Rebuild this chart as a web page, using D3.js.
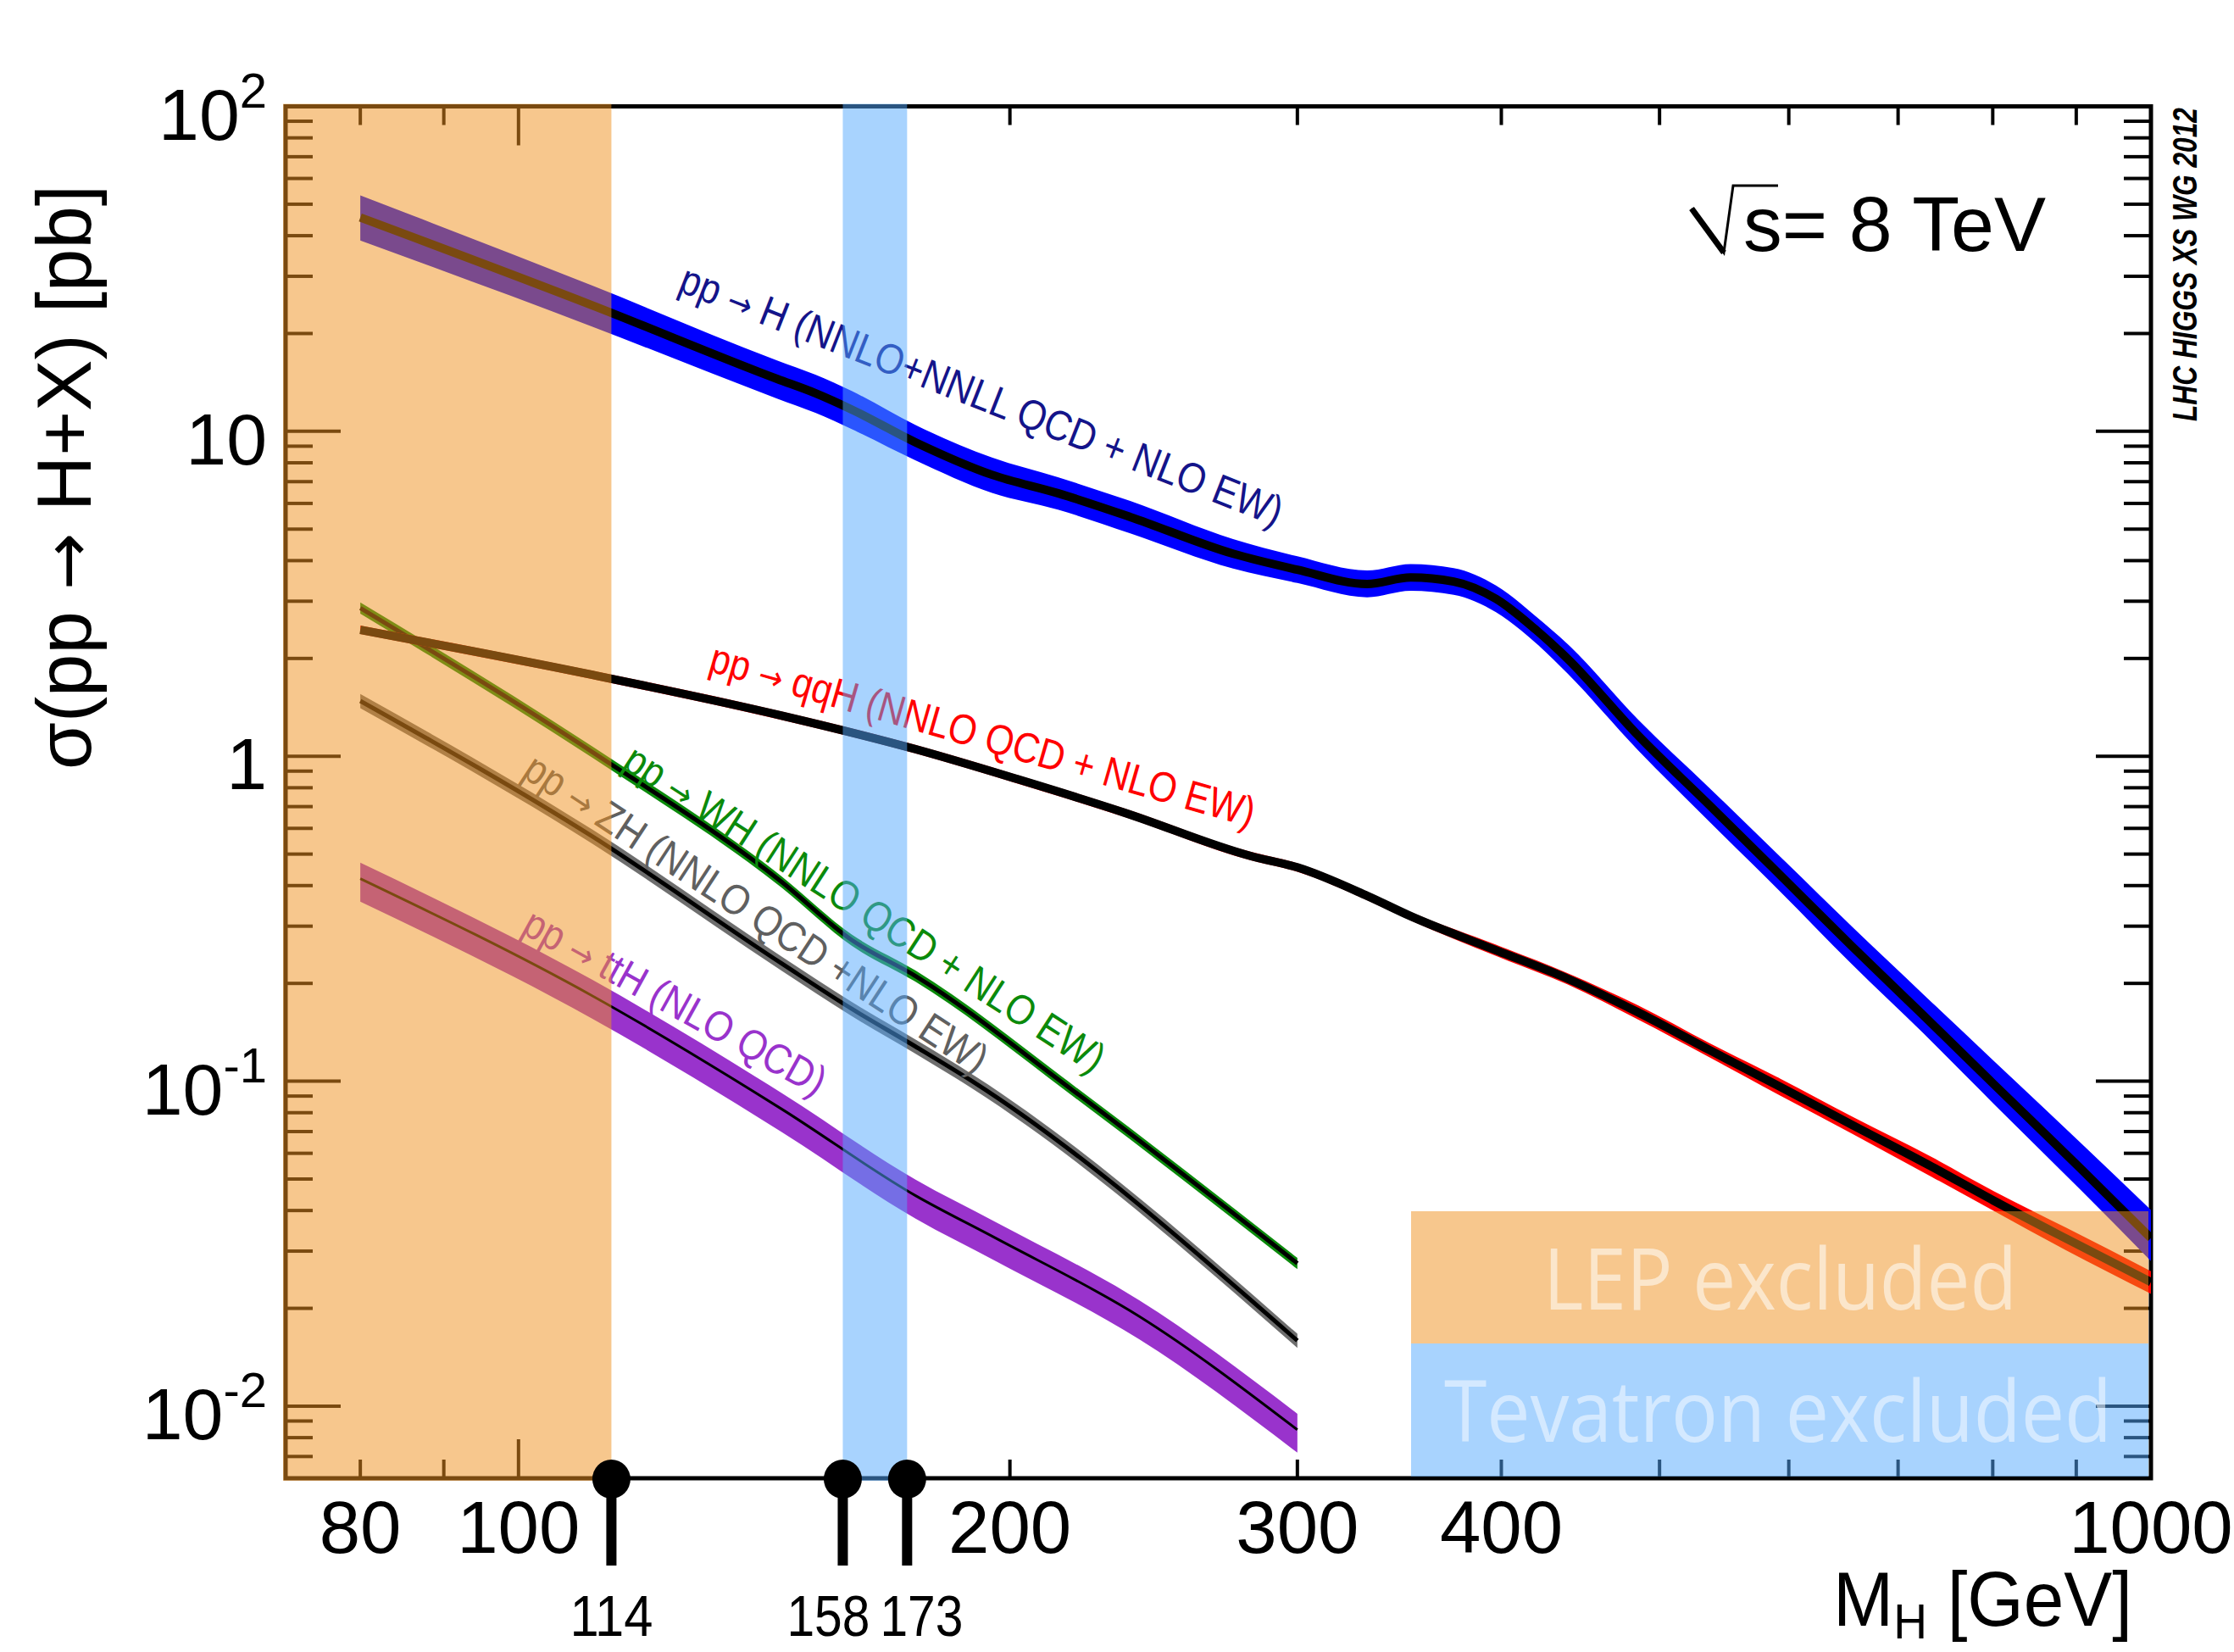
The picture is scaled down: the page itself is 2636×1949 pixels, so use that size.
<!DOCTYPE html>
<html>
<head>
<meta charset="utf-8">
<script src="https://cdn.jsdelivr.net/npm/d3@7"></script>
<style>
  html, body { margin: 0; padding: 0; background: #fff; }
  svg { display: block; font-family: "Liberation Sans", Arial, Helvetica, sans-serif; }
</style>
</head>
<body>
<svg id="chart" width="2636" height="1949"></svg>
<script>
// SM Higgs production cross sections, pp at sqrt(s) = 8 TeV
// masses in GeV, cross sections in pb, band half-widths in percent

// gluon fusion
const ggH_mass = [80, 111, 144, 152, 160, 175, 195, 214, 237, 274, 300, 331, 352, 374, 397, 420, 439, 485, 536, 593, 656, 725, 801, 905, 1000];
const ggH_xs   = [45.5, 24.4, 14.5, 13.1, 11.67, 9.26, 7.35, 6.45, 5.45, 4.2, 3.75, 3.39, 3.55, 3.45, 3.05, 2.45, 2.0, 1.16, 0.71, 0.43, 0.26, 0.16, 0.098, 0.054, 0.0329];
const ggH_up   = [17, 15, 14, 14, 14, 13, 13, 12, 12, 11, 10, 10, 10, 10, 10, 10, 11, 12, 13, 14, 15, 16, 18, 20, 22];
const ggH_dn   = [15, 14, 13, 13, 13, 12, 12, 11, 11, 10, 9, 9, 9, 9, 9, 9, 10, 10, 11, 11, 12, 12, 13, 14, 15];

// vector boson fusion
const qqH_mass = [80, 111, 145, 175, 202, 235, 281, 300, 331, 352, 397, 439, 485, 536, 593, 656, 734, 801, 887, 1000];
const qqH_xs   = [2.45, 1.78, 1.333, 1.052, 0.851, 0.671, 0.493, 0.455, 0.372, 0.322, 0.253, 0.207, 0.163, 0.125, 0.096, 0.0734, 0.0546, 0.0429, 0.0328, 0.0241];
const qqH_up   = [3, 3, 3, 3, 3, 3, 3, 3, 3, 3, 4, 4, 5, 5, 6, 6, 7, 7, 8, 8];
const qqH_dn   = [3, 3, 3, 3, 3, 3, 3, 3, 3, 3, 4, 4, 5, 5, 6, 6, 7, 7, 8, 8];

// associated production with W
const WH_mass = [80, 111, 145, 160, 175, 219, 300];
const WH_xs   = [2.86, 1.03, 0.41, 0.272, 0.211, 0.093, 0.0275];
const WH_up   = [4, 4, 4, 4, 4, 4, 4];
const WH_dn   = [4, 4, 4, 4, 4, 4, 4];

// associated production with Z
const ZH_mass = [80, 111, 145, 160, 175, 190, 300];
const ZH_xs   = [1.48, 0.566, 0.23, 0.167, 0.128, 0.0994, 0.0159];
const ZH_up   = [5, 5, 5, 5, 5, 5, 5];
const ZH_dn   = [5, 5, 5, 5, 5, 5, 5];

// associated production with a top pair
const ttH_mass = [80, 111, 145, 175, 196, 240, 300];
const ttH_xs   = [0.42, 0.183, 0.082, 0.0445, 0.0329, 0.0189, 0.00846];
const ttH_up   = [12, 12, 12, 12, 12, 12, 12];
const ttH_dn   = [15, 15, 15, 15, 15, 15, 15];

// curve labels: text around the arrow, anchor (mass, xs) and slope angle
const curveLabels = [["pp ", " H (NNLO+NNLL QCD + NLO EW)"], ["pp ", " qqH (NNLO QCD + NLO EW)"],
                     ["pp ", " WH (NNLO QCD + NLO EW)"], ["pp ", " ZH (NNLO QCD +NLO EW)"], ["pp ", " ttH (NLO QCD)"]];
const labelMass = [125, 130.5, 115.5, 100.3, 100.2];
const labelXs   = [27.1, 1.835, 0.925, 0.87, 0.287];

// excluded mass ranges
const lepLimit = 114;
const tevatronRange = [158, 173];
const exclusionMarks = [114, 158, 173];

// axis ticks
const xTickLabels = [80, 100, 200, 300, 400, 1000];
const yTickPowers = [-2, -1, 0, 1, 2];

// ---------------------------------------------------------------------
const W = 2636, H = 1949;
const P = { left: 337, right: 2538, top: 125.5, bottom: 1744 };

const x = d3.scaleLog().domain([72, 1000]).range([P.left, P.right]);
const y = d3.scaleLog().domain([0.006, 100]).range([P.bottom, P.top]);

const svg = d3.select("#chart");
svg.append("rect").attr("width", W).attr("height", H).attr("fill", "#fff");

svg.append("defs").append("clipPath").attr("id", "plotClip")
  .append("rect").attr("x", P.left).attr("y", P.top)
  .attr("width", P.right - P.left).attr("height", P.bottom - P.top);

// ---------------- frame and ticks ----------------
const axes = svg.append("g");
const xMinor = [], xMajor = [];
for (let e = 1; e <= 3; e++) {
  for (let m = 1; m <= 9; m++) {
    const v = m * Math.pow(10, e);
    if (v < 72 || v > 1000) continue;
    (m === 1 ? xMajor : xMinor).push(v);
  }
}
const yMinor = [], yMajor = [];
for (let e = -3; e <= 2; e++) {
  for (let m = 1; m <= 9; m++) {
    const v = m * Math.pow(10, e);
    if (v < 0.006 || v > 100.001) continue;
    (m === 1 ? yMajor : yMinor).push(v);
  }
}
const tickW = 4;
const xt = (vals, len) => {
  vals.forEach(v => {
    axes.append("line").attr("x1", x(v)).attr("x2", x(v)).attr("y1", P.bottom).attr("y2", P.bottom - len)
      .attr("stroke", "#000").attr("stroke-width", tickW);
    axes.append("line").attr("x1", x(v)).attr("x2", x(v)).attr("y1", P.top).attr("y2", P.top + len)
      .attr("stroke", "#000").attr("stroke-width", tickW);
  });
};
xt(xMinor, 22); xt(xMajor, 46);
const yt = (vals, len) => {
  vals.forEach(v => {
    axes.append("line").attr("x1", P.left).attr("x2", P.left + len).attr("y1", y(v)).attr("y2", y(v))
      .attr("stroke", "#000").attr("stroke-width", tickW);
    axes.append("line").attr("x1", P.right).attr("x2", P.right - len).attr("y1", y(v)).attr("y2", y(v))
      .attr("stroke", "#000").attr("stroke-width", tickW);
  });
};
yt(yMinor, 32); yt(yMajor, 65);
axes.append("rect").attr("x", P.left).attr("y", P.top)
  .attr("width", P.right - P.left).attr("height", P.bottom - P.top)
  .attr("fill", "none").attr("stroke", "#000").attr("stroke-width", 5);

// ---------------- tick labels ----------------
const tl = svg.append("g").attr("fill", "#000");
xTickLabels.forEach(v => {
  tl.append("text").attr("x", x(v)).attr("y", 1832).attr("text-anchor", "middle")
    .attr("font-size", 87).text(v);
});
yTickPowers.forEach(p => {
  const t = tl.append("text").attr("x", 315).attr("y", y(Math.pow(10, p)) + 39)
    .attr("text-anchor", "end").attr("font-size", 86);
  if (p === 0) t.text("1");
  else if (p === 1) t.text("10");
  else {
    t.append("tspan").text("10");
    t.append("tspan").attr("font-size", 58).attr("dy", -38).text(p < 0 ? "-" + (-p) : p);
  }
});

// axis titles
const xt1 = svg.append("text").attr("x", 2516).attr("y", 1918).attr("text-anchor", "end")
  .attr("font-size", 90).attr("textLength", 353).attr("lengthAdjust", "spacingAndGlyphs");
xt1.append("tspan").text("M");
xt1.append("tspan").attr("font-size", 58).attr("dy", 15).text("H");
xt1.append("tspan").attr("dy", -15).text(" [GeV]");

const yTitle = svg.append("text").attr("transform", "translate(107,563) rotate(-90)")
  .attr("text-anchor", "middle").attr("font-size", 90)
  .attr("textLength", 690).attr("lengthAdjust", "spacingAndGlyphs");
yTitle.append("tspan").text("\u03c3(pp ");
yTitle.append("tspan").attr("font-family", "'DejaVu Sans', sans-serif").attr("font-size", 80).text("\u2192");
yTitle.append("tspan").text(" H+X) [pb]");

// ---------------- cross-section curves ----------------
const procs = [
  { mass: ttH_mass, xs: ttH_xs, up: ttH_up, dn: ttH_dn, band: "#9933cc", lw: 3 },
  { mass: ZH_mass,  xs: ZH_xs,  up: ZH_up,  dn: ZH_dn,  band: "#6e6e6e", lw: 5 },
  { mass: WH_mass,  xs: WH_xs,  up: WH_up,  dn: WH_dn,  band: "#0b8a0b", lw: 5 },
  { mass: qqH_mass, xs: qqH_xs, up: qqH_up, dn: qqH_dn, band: "#ff0000", lw: 10 },
  { mass: ggH_mass, xs: ggH_xs, up: ggH_up, dn: ggH_dn, band: "#0000ff", lw: 10 }
];
const plot = svg.append("g").attr("clip-path", "url(#plotClip)");
procs.forEach(p => {
  const pts = p.mass.map((m, i) => ({ m, v: p.xs[i], hi: p.xs[i] * (1 + p.up[i] / 100), lo: p.xs[i] * (1 - p.dn[i] / 100) }));
  plot.append("path").datum(pts)
    .attr("d", d3.area().curve(d3.curveMonotoneX).x(d => x(d.m)).y0(d => y(d.lo)).y1(d => y(d.hi)))
    .attr("fill", p.band);
  plot.append("path").datum(pts)
    .attr("d", d3.line().curve(d3.curveMonotoneX).x(d => x(d.m)).y(d => y(d.v)))
    .attr("fill", "none").attr("stroke", "#000").attr("stroke-width", p.lw);
});

// curve labels
const labelColor = ["#14148a", "#ff0000", "#0b8a0b", "#606060", "#9933cc"];
const labelAngle = [21.5, 16.1, 33.0, 33.3, 29.0];
const labelLen = [760, 667, 665, 643, 400];
curveLabels.forEach((t, i) => {
  const tx = svg.append("text")
    .attr("transform", `translate(${x(labelMass[i])},${y(labelXs[i])}) rotate(${labelAngle[i]})`)
    .attr("font-size", 50).attr("fill", labelColor[i])
    .attr("textLength", labelLen[i]).attr("lengthAdjust", "spacingAndGlyphs");
  tx.append("tspan").text(t[0]);
  tx.append("tspan").attr("font-family", "'DejaVu Sans', sans-serif").attr("font-size", 40).text("\u2192");
  tx.append("tspan").text(t[1]);
});

// sqrt(s) = 8 TeV
svg.append("path")
  .attr("d", "M1996,246 L2034,298 L2045,219 L2098,219")
  .attr("fill", "none").attr("stroke", "#000").attr("stroke-width", 3);
svg.append("path").attr("d", "M1996,246 L2034,298")
  .attr("stroke", "#000").attr("stroke-width", 7);
svg.append("text").attr("x", 2057).attr("y", 296).attr("font-size", 90)
  .attr("textLength", 357).attr("lengthAdjust", "spacingAndGlyphs").text("s= 8 TeV");

svg.append("text").attr("transform", "translate(2592,497) rotate(-90)")
  .attr("font-size", 40).attr("font-weight", "bold").attr("font-style", "italic")
  .attr("textLength", 370).attr("lengthAdjust", "spacingAndGlyphs")
  .text("LHC HIGGS XS WG 2012");

// ---------------- excluded regions ----------------
const lepFill = "rgb(239,145,31)", lepOp = 0.51;
const tevFill = "rgb(83,168,253)", tevOp = 0.505;
const excl = svg.append("g");
excl.append("rect").attr("x", P.left - 3).attr("y", P.top - 3)
  .attr("width", x(lepLimit) - P.left + 3).attr("height", P.bottom - P.top + 6)
  .attr("fill", lepFill).attr("fill-opacity", lepOp);
excl.append("rect").attr("x", x(tevatronRange[0])).attr("y", P.top - 3)
  .attr("width", x(tevatronRange[1]) - x(tevatronRange[0])).attr("height", P.bottom - P.top + 6)
  .attr("fill", tevFill).attr("fill-opacity", tevOp);

// legend boxes
const lg = { x0: 1665, x1: P.right - 3, y0: 1429, ym: 1585, y1: P.bottom - 2 };
excl.append("rect").attr("x", lg.x0).attr("y", lg.y0).attr("width", lg.x1 - lg.x0).attr("height", lg.ym - lg.y0)
  .attr("fill", lepFill).attr("fill-opacity", lepOp);
excl.append("rect").attr("x", lg.x0).attr("y", lg.ym).attr("width", lg.x1 - lg.x0).attr("height", lg.y1 - lg.ym)
  .attr("fill", tevFill).attr("fill-opacity", tevOp);
excl.append("text").attr("x", 1821).attr("y", 1545).attr("font-family", "'Open Sans', sans-serif")
  .attr("font-weight", 500).attr("font-size", 100).attr("fill", "#fff").attr("fill-opacity", 0.55)
  .attr("textLength", 559).attr("lengthAdjust", "spacingAndGlyphs").text("LEP excluded");
excl.append("text").attr("x", 1704).attr("y", 1701).attr("font-family", "'Open Sans', sans-serif")
  .attr("font-weight", 500).attr("font-size", 100).attr("fill", "#fff").attr("fill-opacity", 0.5)
  .attr("textLength", 788).attr("lengthAdjust", "spacingAndGlyphs").text("Tevatron excluded");

// exclusion limit markers on the mass axis
const mk = svg.append("g");
exclusionMarks.forEach(v => {
  mk.append("line").attr("x1", x(v)).attr("x2", x(v)).attr("y1", P.bottom).attr("y2", 1847)
    .attr("stroke", "#000").attr("stroke-width", 12);
  mk.append("ellipse").attr("cx", x(v)).attr("cy", P.bottom + 1).attr("rx", 22.5).attr("ry", 23).attr("fill", "#000");
});
const mLab = mk.selectAll("text.mlab").data(exclusionMarks).join("text").attr("class", "mlab")
  .attr("x", d => x(d)).attr("y", 1930).attr("text-anchor", "middle")
  .attr("font-size", 68).attr("textLength", 98).attr("lengthAdjust", "spacingAndGlyphs")
  .text(d => d);
// spread marker labels that would collide
{
  const nodes = mLab.nodes();
  const pos = exclusionMarks.map(d => x(d));
  const wid = nodes.map(n => n.getComputedTextLength());
  const pad = 12;
  for (let it = 0; it < 20; it++) {
    for (let i = 0; i < pos.length - 1; i++) {
      const gap = pos[i + 1] - pos[i] - (wid[i] + wid[i + 1]) / 2 - pad;
      if (gap < 0) { pos[i] += gap / 2; pos[i + 1] -= gap / 2; }
    }
  }
  nodes.forEach((n, i) => d3.select(n).attr("x", pos[i]));
}
</script>
</body>
</html>
